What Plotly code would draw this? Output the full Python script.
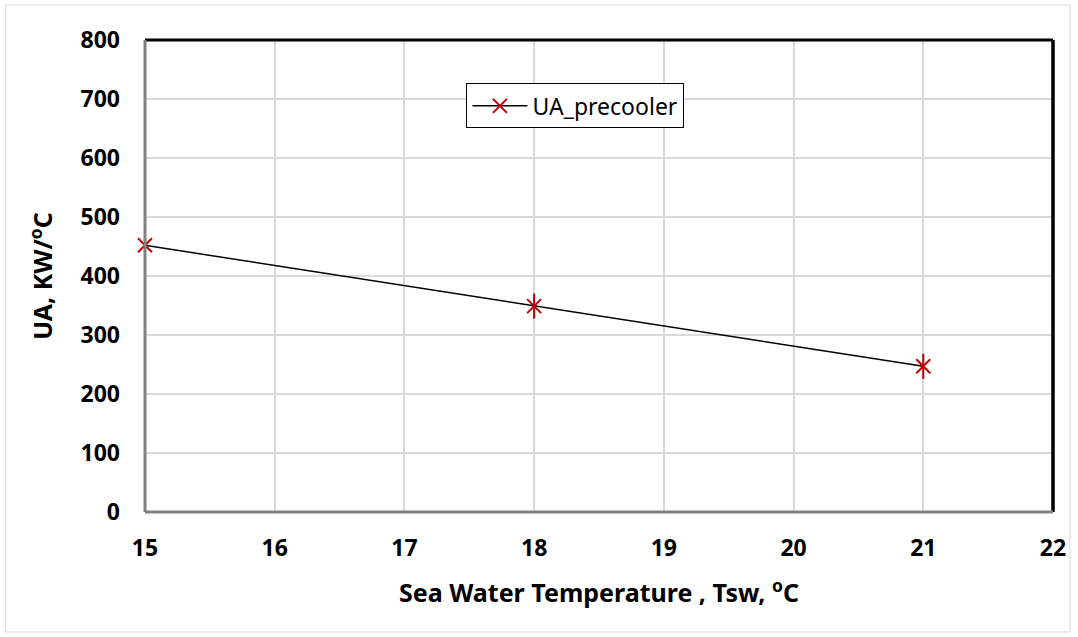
import plotly.graph_objects as go

x_vals = [15, 18, 21]
ua_vals = [452, 349, 247]
x_ticks = [15, 16, 17, 18, 19, 20, 21, 22]
y_ticks = [0, 100, 200, 300, 400, 500, 600, 700, 800]

red = "#C00000"
font_family = "Noto Sans, Open Sans, sans-serif"

fig = go.Figure()
fig.add_trace(go.Scatter(
    x=x_vals, y=ua_vals, mode="lines+markers", name="UA_precooler",
    line=dict(color="black", width=1.5),
    marker=dict(symbol="x-thin-open", size=14, line=dict(color=red, width=2), color=red),
    legendgroup="ua", cliponaxis=False,
))
fig.add_trace(go.Scatter(
    x=x_vals, y=ua_vals, mode="markers", name="UA_precooler",
    marker=dict(symbol="line-ns-open", size=18, line=dict(color=red, width=2), color=red),
    showlegend=False, legendgroup="ua", hoverinfo="skip", cliponaxis=False,
))

axis_common = dict(
    showgrid=True, gridcolor="#d9d9d9", gridwidth=1.5,
    zeroline=False, showline=False, ticks="",
    tickfont=dict(family=font_family, size=23, color="black", weight="bold"),
)

fig.update_layout(
    width=1078, height=637,
    margin=dict(l=145, r=23, t=40, b=125),
    paper_bgcolor="white", plot_bgcolor="white",
    showlegend=True,
    legend=dict(
        x=0.354, y=0.908, xanchor="left", yanchor="top",
        bordercolor="black", borderwidth=1, bgcolor="white",
        itemwidth=55,
        font=dict(family=font_family, size=23, color="black"),
    ),
    xaxis=dict(
        range=[15, 22], tickvals=x_ticks, ticktext=[str(v) for v in x_ticks],
        ticklabelstandoff=20,
        title=dict(text="Sea Water Temperature , Tsw, <sup>o</sup>C",
                   font=dict(family=font_family, size=25, color="black", weight="bold"),
                   standoff=22),
        **axis_common,
    ),
    yaxis=dict(
        range=[0, 800], tickvals=y_ticks, ticktext=[str(v) for v in y_ticks],
        ticklabelstandoff=24,
        title=dict(text="UA, KW/<sup>o</sup>C",
                   font=dict(family=font_family, size=25, color="black", weight="bold"),
                   standoff=20),
        **axis_common,
    ),
)

# plot area borders
fig.add_shape(type="line", xref="paper", yref="paper", x0=0, x1=1, y0=1, y1=1,
              line=dict(color="black", width=3))
fig.add_shape(type="line", xref="paper", yref="paper", x0=1, x1=1, y0=0, y1=1,
              line=dict(color="black", width=3.5))
fig.add_shape(type="line", xref="paper", yref="paper", x0=0, x1=0, y0=0, y1=1,
              line=dict(color="#808080", width=3))
fig.add_shape(type="line", xref="paper", yref="paper", x0=0, x1=1, y0=0, y1=0,
              line=dict(color="#808080", width=3))
# outer chart border
fig.add_shape(type="rect", xref="paper", yref="paper",
              x0=(5 - 145) / 910, x1=(1072 - 145) / 910,
              y0=(512 - 632) / 472, y1=(512 - 5) / 472,
              line=dict(color="#d9d9d9", width=1), layer="below")

fig.write_html("out.html")
